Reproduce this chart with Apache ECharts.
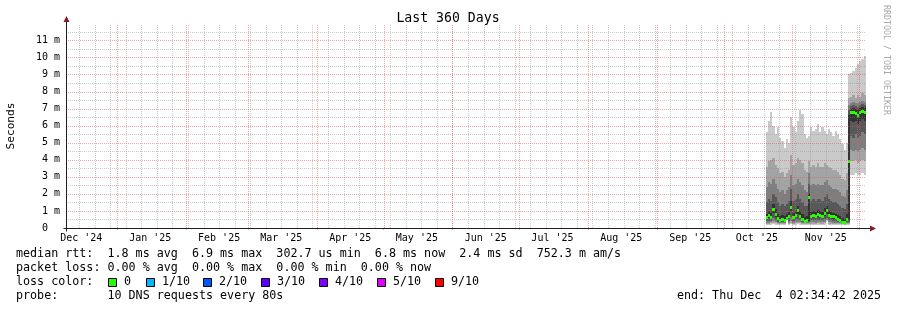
<!DOCTYPE html>
<html><head><meta charset="utf-8">
<script src="https://cdn.jsdelivr.net/npm/echarts@6/dist/echarts.min.js"></script>
<style>html,body{margin:0;padding:0;background:#fff}#c{width:897px;height:310px}</style>
</head><body><div id="c"></div>
<script>
// ---------- data ----------
const days = ['2025-10-20','2025-10-21','2025-10-22','2025-10-23','2025-10-24','2025-10-25','2025-10-26','2025-10-27','2025-10-28','2025-10-29',
  '2025-10-30','2025-10-31','2025-11-01','2025-11-02','2025-11-03','2025-11-04','2025-11-05','2025-11-06','2025-11-07','2025-11-08',
  '2025-11-09','2025-11-10','2025-11-11','2025-11-12','2025-11-13','2025-11-14','2025-11-15','2025-11-16','2025-11-17','2025-11-18',
  '2025-11-19','2025-11-20','2025-11-21','2025-11-22','2025-11-23','2025-11-24','2025-11-25','2025-11-26','2025-11-27','2025-11-28',
  '2025-11-29','2025-11-30','2025-12-01','2025-12-02','2025-12-03'];
// sorted ping times (ms), lowest p1 .. highest p10
const p1 = [.20,.18,.20,.22,.20,.18,.17,.18,.17,.45, .18,.22,.19,.20,.21,.20,.18,.17,.17,.20, .19,.19,.18,.19,.19,.18,.20,.40,.19,.18, .18,.18,.17,.17,.16,.15,.17,.20,3.1,3.1, 3.2,3.1,3.1,3.2,3.1];
const p2 = [.26,.25,.27,.30,.28,.24,.23,.24,.23,.48, .25,.30,.26,.27,.29,.27,.25,.23,.24,.25, .26,.26,.25,.27,.26,.25,.28,.44,.26,.25, .25,.24,.23,.22,.21,.20,.23,.25,3.9,3.9, 4.0,3.8,3.9,4.0,3.9];
const p3 = [.32,.30,.33,.40,.35,.30,.29,.30,.28,.50, .32,.42,.32,.34,.38,.34,.30,.28,.29,.30, .33,.33,.32,.35,.34,.33,.36,.48,.34,.33, .32,.31,.29,.28,.26,.24,.29,.30,4.6,4.5, 4.6,4.5,4.6,4.7,4.6];
const p4 = [.40,.42,.42,.60,.48,.38,.35,.36,.34,.52, .42,.65,.40,.46,.55,.45,.38,.33,.35,.35, .44,.45,.44,.48,.46,.44,.50,.60,.46,.44, .42,.40,.36,.34,.30,.27,.36,.35,5.4,5.3, 5.5,5.3,5.4,5.6,5.5];
const p5 = [.50,.60,.52,.90,.65,.46,.40,.42,.40,.54, .56,1.0,.50,.62,.82,.58,.44,.36,.40,.40, .58,.62,.58,.66,.62,.58,.72,.85,.62,.58, .54,.50,.42,.38,.32,.28,.42,.45,6.3,6.2, 6.3,6.1,6.3,6.4,6.3];
const p6 = [.85,1.00,.90,1.40,1.10,.80,.70,.75,.70,.85, .95,1.60,.90,1.00,1.30,1.00,.80,.65,.70,2.00, .95,1.00,.95,1.05,1.00,.95,1.15,1.30,1.00,.95, .90,.85,.75,.70,.60,.55,.80,6.60,7.00,7.05, 7.00,6.95,7.05,7.10,7.05];
const p7 = [1.5,1.7,1.6,2.0,1.8,1.5,1.3,1.4,1.3,1.4, 1.6,2.3,1.6,1.7,2.0,1.7,1.5,1.3,1.3,2.6, 1.6,1.7,1.6,1.7,1.7,1.6,1.8,2.0,1.7,1.6, 1.5,1.5,1.4,1.3,1.2,1.1,1.4,6.90,7.15,7.20, 7.15,7.10,7.20,7.25,7.20];
const p8 = [2.4,2.7,2.6,2.9,2.6,2.3,2.1,2.2,2.0,2.2, 2.4,3.1,2.5,2.6,2.9,2.7,2.5,2.2,2.1,3.2, 2.5,2.6,2.5,2.6,2.5,2.5,2.7,2.8,2.5,2.4, 2.3,2.3,2.2,2.1,1.9,1.8,2.2,7.20,7.35,7.40, 7.35,7.30,7.40,7.45,7.40];
const p9 = [3.6,3.9,4.0,4.1,3.7,3.5,3.2,3.3,3.0,3.2, 3.4,4.3,3.7,3.8,4.1,4.0,3.8,3.4,3.3,3.9, 3.6,3.7,3.6,3.8,3.6,3.6,3.8,3.7,3.6,3.5, 3.4,3.4,3.3,3.1,2.9,2.8,3.2,7.60,7.70,7.80, 7.60,7.80,7.70,7.90,7.80];
const p10 = [5.6,6.3,6.8,6.0,5.5,5.9,5.3,5.1,4.7,5.2, 5.0,6.5,5.9,5.6,6.3,6.9,6.7,5.5,5.3,5.4, 5.9,5.7,5.8,6.1,5.6,5.9,5.7,5.5,5.8,5.6, 5.4,5.7,5.5,5.2,4.9,4.6,5.0,9.00,9.10,9.20, 9.40,9.60,9.80,9.90,10.10];
const median = [.60,.75,.60,1.10,.80,.55,.45,.50,.45,.58, .70,1.20,.60,.75,1.00,.70,.50,.40,.45,1.80, .70,.75,.70,.80,.75,.70,.85,1.00,.75,.70, .65,.60,.50,.45,.35,.30,.50,3.90,6.75,6.80, 6.70,6.60,6.80,6.85,6.80];

// ---------- axis ticks / labels ----------
const rangeStart = '2024-12-09T02:34:42Z';
const rangeEnd = '2025-12-04T02:34:42Z';
const yMaxValue = 11.9;
const yMajor = [1,2,3,4,5,6,7,8,9,10,11];
const yMinor = [0.5,1.5,2.5,3.5,4.5,5.5,6.5,7.5,8.5,9.5,10.5,11.5];
const monthStarts = ['2025-01-01','2025-02-01','2025-03-01','2025-04-01','2025-05-01','2025-06-01','2025-07-01','2025-08-01','2025-09-01','2025-10-01','2025-11-01','2025-12-01'];
const weekStarts = ['2024-12-15','2024-12-22','2024-12-29','2025-01-05','2025-01-12','2025-01-19','2025-01-26','2025-02-02','2025-02-09','2025-02-16','2025-02-23',
  '2025-03-02','2025-03-09','2025-03-16','2025-03-23','2025-03-30','2025-04-06','2025-04-13','2025-04-20','2025-04-27','2025-05-04','2025-05-11','2025-05-18','2025-05-25',
  '2025-06-01','2025-06-08','2025-06-15','2025-06-22','2025-06-29','2025-07-06','2025-07-13','2025-07-20','2025-07-27','2025-08-03','2025-08-10','2025-08-17','2025-08-24','2025-08-31',
  '2025-09-07','2025-09-14','2025-09-21','2025-09-28','2025-10-05','2025-10-12','2025-10-19','2025-10-26','2025-11-02','2025-11-09','2025-11-16','2025-11-23','2025-11-30'];
const monthLabelDates = ['2024-12-16','2025-01-16','2025-02-16','2025-03-16','2025-04-16','2025-05-16','2025-06-16','2025-07-16','2025-08-16','2025-09-16','2025-10-16','2025-11-16'];
const monthLabels = ["Dec '24","Jan '25","Feb '25","Mar '25","Apr '25","May '25","Jun '25","Jul '25","Aug '25","Sep '25","Oct '25","Nov '25"];

// ---------- legend text ----------
const titleText = 'Last 360 Days';
const yAxisName = 'Seconds';
const watermark = 'RRDTOOL / TOBI OETIKER';
const legendLines = [
  'median rtt:  1.8 ms avg  6.9 ms max  302.7 us min  6.8 ms now  2.4 ms sd  752.3 m am/s',
  'packet loss: 0.00 % avg  0.00 % max  0.00 % min  0.00 % now',
  'loss color:',
  'probe:       10 DNS requests every 80s'
];
const endText = 'end: Thu Dec  4 02:34:42 2025';
const lossLabels = ['0','1/10','2/10','3/10','4/10','5/10','9/10'];
const lossColors = ['#26ff00','#00b8ff','#0059ff','#5e00ff','#7e00ff','#dd00ff','#ff0000'];

// ---------- styles / layout ----------
const FONT = '"DejaVu Sans Mono", "Liberation Mono", monospace';
const SMOKE = ['#cacaca','#a4a4a4','#7e7e7e','#585858','#323232','#585858','#7e7e7e','#a4a4a4','#cacaca'];
const MAJOR = 'rgba(222,79,79,0.5)';
const MINOR = 'rgba(143,143,143,0.45)';
const AXIS = '#1f1f1f';
const ARROW = '#801f1f';
const legendBoxX = [108,146,203,261,319,377,435];

const DAY = 86400000;
const ts = s => Date.parse(s.length === 10 ? s + 'T00:00:00Z' : s);
const START = ts(rangeStart), END = ts(rangeEnd);

const smokeData = days.map((d, i) => [ts(d), p1[i], p2[i], p3[i], p4[i], p5[i], p6[i], p7[i], p8[i], p9[i], p10[i], median[i]]);
const vData = weekStarts.map(d => [ts(d), 0, 0]).concat(monthStarts.map(d => [ts(d), 0, 1]));
const hData = yMinor.map(v => [START, v, 0]).concat(yMajor.map(v => [START, v, 1]));
const labelMap = {};
monthLabelDates.forEach((d, i) => { labelMap[ts(d)] = monthLabels[i]; });

function renderSmoke(params, api) {
  const t = api.value(0);
  const xa = Math.round(api.coord([t, 0])[0]);
  const xb = Math.round(api.coord([t + DAY, 0])[0]);
  const w = xb - xa;
  const children = [];
  for (let j = 1; j < 10; j++) {
    const ylo = Math.round(api.coord([t, api.value(j)])[1]);
    const yhi = Math.round(api.coord([t, api.value(j + 1)])[1]);
    if (ylo - yhi > 0) children.push({type: 'rect', shape: {x: xa, y: yhi, width: w, height: ylo - yhi}, style: {fill: SMOKE[j - 1]}});
  }
  const ym = api.coord([t, api.value(11)])[1];
  children.push({type: 'rect', shape: {x: xa, y: Math.round(ym - 1.5), width: w, height: 3}, style: {fill: lossColors[0]}});
  return {type: 'group', children};
}
function renderV(params, api) {
  const t = api.value(0);
  const x = Math.round(api.coord([t, 0])[0]) + 0.5;
  const y0 = api.coord([t, 0])[1], y1 = api.coord([t, yMaxValue])[1];
  return {type: 'line', shape: {x1: x, y1: y0, x2: x, y2: y1}, style: {stroke: api.value(2) ? MAJOR : MINOR, lineWidth: 1, lineDash: [1, 1]}};
}
function renderH(params, api) {
  const v = api.value(1);
  const y = Math.round(api.coord([START, v])[1]) + 0.5;
  const x0 = api.coord([START, v])[0], x1 = api.coord([END, v])[0];
  return {type: 'line', shape: {x1: x0, y1: y, x2: x1, y2: y}, style: {stroke: api.value(2) ? MAJOR : MINOR, lineWidth: 1, lineDash: [1, 1]}};
}
// axis lines with RRDtool-style dark-red arrows, drawn through the scales
function renderAxes(params, api) {
  const o = api.coord([START, 0]);
  const xe = api.coord([END, 0]);
  const yt = api.coord([START, yMaxValue]);
  const ox = Math.round(o[0]) + 0.5, oy = Math.round(o[1]) + 0.5;
  const ex = Math.round(xe[0]) + 4, ty = Math.round(yt[1]) - 3;
  return {type: 'group', children: [
    {type: 'line', shape: {x1: ox - 3, y1: oy, x2: ex, y2: oy}, style: {stroke: AXIS, lineWidth: 1}},
    {type: 'line', shape: {x1: ox, y1: oy + 3, x2: ox, y2: ty}, style: {stroke: AXIS, lineWidth: 1}},
    {type: 'polygon', shape: {points: [[ex, oy - 3], [ex + 6, oy], [ex, oy + 3]]}, style: {fill: ARROW}},
    {type: 'polygon', shape: {points: [[ox - 3, ty], [ox, ty - 6], [ox + 3, ty]]}, style: {fill: ARROW}}
  ]};
}

const txt = (x, y, text, extra) => Object.assign({type: 'text', x, y, silent: true,
  style: Object.assign({text, font: '11.7px ' + FONT, fill: '#000', align: 'left', verticalAlign: 'middle'}, (extra && extra.style) || {})},
  extra ? {rotation: extra.rotation || 0} : {});

const graphics = [
  txt(448, 19, titleText, {style: {font: '13.2px ' + FONT, align: 'center'}}),
  txt(11, 126, yAxisName, {rotation: Math.PI / 2, style: {font: '11.2px ' + FONT, align: 'center'}}),
  txt(886, 5, watermark, {rotation: -Math.PI / 2, style: {font: '8.3px ' + FONT, fill: '#a8a8a8'}}),
  txt(16, 254, legendLines[0]),
  txt(16, 268, legendLines[1]),
  txt(16, 282, legendLines[2]),
  txt(16, 296, legendLines[3]),
  txt(881, 296, endText, {style: {align: 'right'}})
];
lossLabels.forEach((lab, i) => {
  graphics.push({type: 'rect', silent: true, shape: {x: legendBoxX[i] + 0.5, y: 278.5, width: 8, height: 8}, style: {fill: lossColors[i], stroke: '#000', lineWidth: 1}});
  graphics.push(txt(legendBoxX[i] + 16, 282, lab));
});

const chart = echarts.init(document.getElementById('c'), null, {renderer: 'canvas'});
chart.setOption({
  animation: false,
  backgroundColor: '#ffffff',
  grid: {left: 66, top: 25, width: 800, height: 203, containLabel: false},
  xAxis: {
    type: 'value', min: START, max: END, scale: true,
    axisLine: {show: false},
    axisTick: {show: true, customValues: monthStarts.map(ts), length: 2, lineStyle: {color: MAJOR}},
    axisLabel: {customValues: monthLabelDates.map(ts), formatter: v => labelMap[v] || '', fontFamily: FONT, fontSize: 10, color: '#000', margin: 5, hideOverlap: false},
    splitLine: {show: false}, minorSplitLine: {show: false}
  },
  yAxis: {
    type: 'value', min: 0, max: yMaxValue, interval: 1,
    axisLine: {show: false},
    axisTick: {show: false},
    axisLabel: {formatter: v => v === 0 ? '0  ' : (Number.isInteger(v) ? v + ' m' : ''), showMaxLabel: false, fontFamily: FONT, fontSize: 10, color: '#000', margin: 6},
    splitLine: {show: false}
  },
  series: [
    {type: 'custom', name: 'smoke', renderItem: renderSmoke, data: smokeData, encode: {x: 0, y: [1,2,3,4,5,6,7,8,9,10,11]}, clip: true, z: 2, silent: true},
    {type: 'custom', name: 'vgrid', renderItem: renderV, data: vData, encode: {x: 0, y: 1}, z: 5, silent: true},
    {type: 'custom', name: 'hgrid', renderItem: renderH, data: hData, encode: {x: 0, y: 1}, z: 5, silent: true},
    {type: 'custom', name: 'axes', renderItem: renderAxes, data: [[START, 0]], encode: {x: 0, y: 1}, clip: false, z: 6, silent: true}
  ],
  graphic: graphics
});
</script></body></html>
